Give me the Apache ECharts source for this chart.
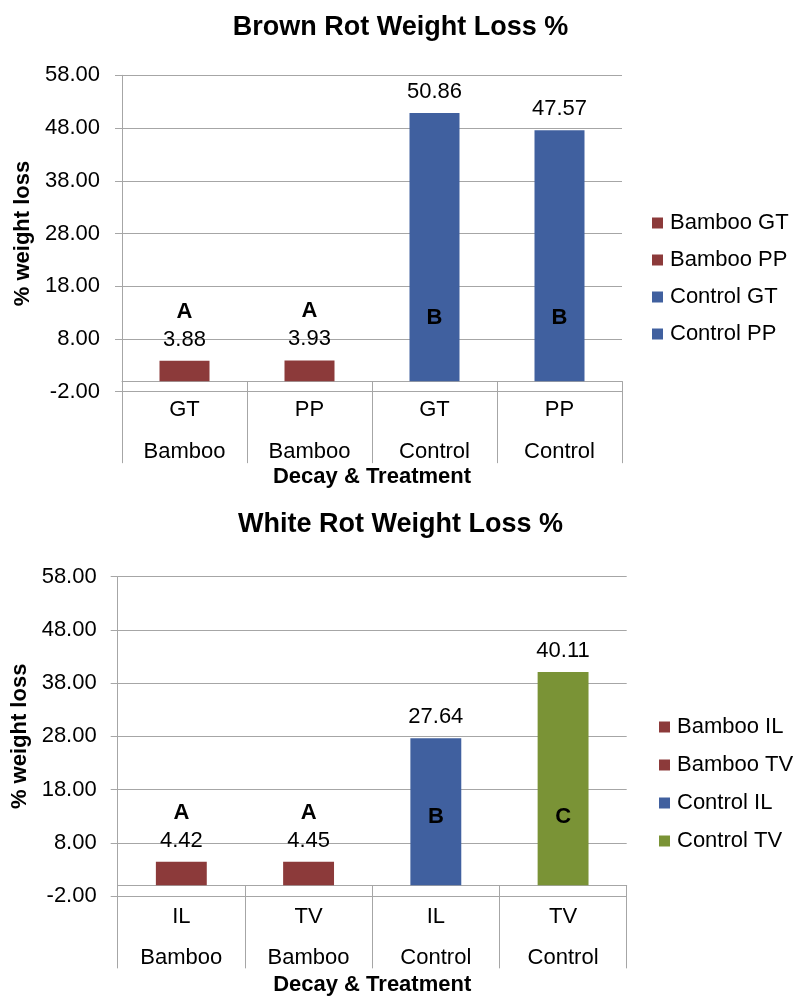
<!DOCTYPE html>
<html>
<head>
<meta charset="utf-8">
<script src="https://cdn.jsdelivr.net/npm/echarts@6/dist/echarts.min.js"></script>
<style>html,body{margin:0;padding:0;background:#fff}#c{width:801px;height:997px}</style>
</head>
<body>
<div id="c"></div>
<script>
// ---- data ----
const brownTreatments = ['GT', 'PP', 'GT', 'PP'];
const brownDecay = ['Bamboo', 'Bamboo', 'Control', 'Control'];
const brownNames = ['Bamboo GT', 'Bamboo PP', 'Control GT', 'Control PP'];
const brownValues = [3.88, 3.93, 50.86, 47.57];
const brownLetters = ['A', 'A', 'B', 'B'];

const whiteTreatments = ['IL', 'TV', 'IL', 'TV'];
const whiteDecay = ['Bamboo', 'Bamboo', 'Control', 'Control'];
const whiteNames = ['Bamboo IL', 'Bamboo TV', 'Control IL', 'Control TV'];
const whiteValues = [4.42, 4.45, 27.64, 40.11];
const whiteLetters = ['A', 'A', 'B', 'C'];

const titles = ['Brown Rot Weight Loss %', 'White Rot Weight Loss %'];
const yName = '% weight loss';
const xName = 'Decay & Treatment';
const yMin = -2, yMax = 58, yStep = 10;

// ---- styles ----
const FONT = 'Liberation Sans, Arial, sans-serif';
const BROWN = '#8C3A3A', BLUE = '#40609F', GREEN = '#7A9336';
const brownColors = [BROWN, BROWN, BLUE, BLUE];
const whiteColors = [BROWN, BROWN, BLUE, GREEN];
const GRAY = '#a6a6a6';

const charts = [
  { treat: brownTreatments, decay: brownDecay, names: brownNames, values: brownValues, letters: brownLetters, colors: brownColors,
    grid: { left: 122, width: 500, top: 75.3, height: 316.4 }, legend: { left: 652, top: 212, gap: 15 }, title: 9,
    tickLen: 82, lab1: 7, lab2: 49, xGap: 74, yGap: 83, yMargin: 22, insideDist: 52 },
  { treat: whiteTreatments, decay: whiteDecay, names: whiteNames, values: whiteValues, letters: whiteLetters, colors: whiteColors,
    grid: { left: 117.7, width: 509, top: 576.7, height: 321.6 }, legend: { left: 659, top: 716, gap: 16 }, title: 506,
    tickLen: 83, lab1: 10, lab2: 51, xGap: 78, yGap: 83, yMargin: 21, insideDist: 57 }
];

const option = { animation: false, title: [], grid: [], xAxis: [], yAxis: [], legend: [], series: [] };

charts.forEach((c, k) => {
  option.title.push({ text: titles[k], left: 'center', top: c.title,
    textStyle: { fontFamily: FONT, fontSize: 27, fontWeight: 'bold', color: '#000' } });
  option.grid.push(Object.assign({ containLabel: false }, c.grid));
  option.xAxis.push({
    type: 'category', gridIndex: k, data: c.treat, position: 'bottom',
    axisLine: { onZero: true, lineStyle: { color: GRAY, width: 1 } },
    axisTick: { show: true, interval: 0, length: c.tickLen, alignWithLabel: false, lineStyle: { color: GRAY } },
    axisLabel: { margin: c.lab1, fontSize: 22, fontFamily: FONT, color: '#000', interval: 0 },
    splitLine: { show: false }
  });
  option.xAxis.push({
    type: 'category', gridIndex: k, data: c.decay, position: 'bottom',
    axisLine: { show: false, onZero: false }, axisTick: { show: false },
    axisLabel: { margin: c.lab2, fontSize: 22, fontFamily: FONT, color: '#000', interval: 0 },
    name: xName, nameLocation: 'middle', nameGap: c.xGap,
    nameTextStyle: { fontFamily: FONT, fontSize: 22, fontWeight: 'bold', color: '#000' }
  });
  option.yAxis.push({
    type: 'value', gridIndex: k, min: yMin, max: yMax, interval: yStep,
    axisLine: { show: true, lineStyle: { color: GRAY } },
    axisTick: { show: true, length: 7, lineStyle: { color: GRAY } },
    splitLine: { show: true, lineStyle: { color: GRAY, width: 1 } },
    axisLabel: { formatter: v => v.toFixed(2), fontSize: 22, fontFamily: FONT, color: '#000', margin: c.yMargin },
    name: yName, nameLocation: 'middle', nameGap: c.yGap,
    nameTextStyle: { fontFamily: FONT, fontSize: 22, fontWeight: 'bold', color: '#000' }
  });
  option.legend.push({
    data: c.names, orient: 'vertical', left: c.legend.left, top: c.legend.top, padding: 0,
    itemWidth: 11, itemHeight: 11, itemGap: c.legend.gap, icon: 'rect', selectedMode: false,
    textStyle: { fontFamily: FONT, fontSize: 22, color: '#000', padding: [0, 0, 0, 2] }
  });
  c.names.forEach((nm, i) => {
    option.series.push({
      type: 'bar', name: nm, xAxisIndex: 2 * k, yAxisIndex: k, stack: 'g' + k,
      barWidth: '40%', barGap: '-100%',
      itemStyle: { color: c.colors[i] },
      data: c.values.map((v, j) => (j === i ? v : '-')),
      label: { show: true, position: 'top', distance: 10, formatter: p => Number(p.value).toFixed(2),
        fontFamily: FONT, fontSize: 22, color: '#000' }
    });
  });
  // letter annotations
  option.series.push({
    type: 'bar', name: 'letters' + k, xAxisIndex: 2 * k, yAxisIndex: k, silent: true,
    barWidth: '40%', barGap: '-100%', z: 5,
    itemStyle: { color: 'rgba(0,0,0,0)' },
    data: c.values.map((v, j) => ({
      value: v,
      label: c.decay[j] === 'Bamboo'
        ? { position: 'top', distance: 38 }
        : { position: 'insideBottom', distance: c.insideDist }
    })),
    label: { show: true, formatter: p => c.letters[p.dataIndex], fontFamily: FONT, fontSize: 22,
      fontWeight: 'bold', color: '#000' }
  });
});

const chart = echarts.init(document.getElementById('c'), null, { renderer: 'canvas' });
chart.setOption(option);
</script>
</body>
</html>
